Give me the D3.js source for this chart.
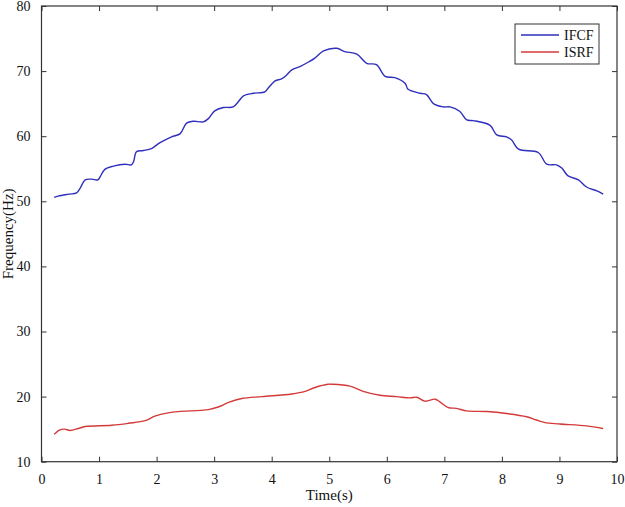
<!DOCTYPE html>
<html>
<head>
<meta charset="utf-8">
<script src="https://cdn.jsdelivr.net/npm/d3@7"></script>
<style>
  body { margin: 0; background: #fff; }
  svg { display: block; font-family: "Liberation Serif", "Times New Roman", serif; }
</style>
</head>
<body>
<svg id="chart" width="625" height="507"></svg>
<script>
// time (s) and frequency (Hz)
const ifcfTime = [0.22, 0.29, 0.47, 0.61, 0.67, 0.76, 0.87, 0.98, 1.02, 1.10, 1.25, 1.45, 1.56, 1.60, 1.65, 1.77, 1.91, 2.06, 2.26, 2.41, 2.52, 2.64, 2.81, 2.90, 3.01, 3.16, 3.33, 3.42, 3.51, 3.68, 3.88, 3.94, 4.06, 4.17, 4.26, 4.35, 4.49, 4.64, 4.75, 4.90, 5.13, 5.27, 5.48, 5.65, 5.82, 5.97, 6.14, 6.32, 6.37, 6.58, 6.69, 6.81, 6.98, 7.10, 7.27, 7.39, 7.50, 7.79, 7.91, 8.08, 8.17, 8.29, 8.63, 8.78, 8.95, 9.04, 9.15, 9.33, 9.47, 9.65, 9.76];
const ifcfFreq = [50.6, 50.8, 51.1, 51.3, 52.0, 53.3, 53.4, 53.3, 53.8, 54.9, 55.4, 55.7, 55.6, 56.1, 57.6, 57.8, 58.1, 59.0, 59.9, 60.4, 62.0, 62.3, 62.2, 62.7, 63.9, 64.4, 64.5, 65.3, 66.2, 66.6, 66.8, 67.4, 68.5, 68.8, 69.4, 70.2, 70.7, 71.4, 72.0, 73.1, 73.5, 73.0, 72.6, 71.2, 71.0, 69.2, 69.0, 68.1, 67.2, 66.6, 66.4, 65.0, 64.5, 64.5, 63.8, 62.5, 62.4, 61.7, 60.2, 59.9, 59.4, 58.0, 57.5, 55.7, 55.6, 55.1, 53.9, 53.3, 52.2, 51.6, 51.1];

const isrfTime = [0.22, 0.32, 0.40, 0.50, 0.64, 0.76, 1.22, 1.51, 1.80, 1.97, 2.20, 2.38, 2.90, 3.07, 3.25, 3.48, 3.83, 4.35, 4.58, 4.75, 4.98, 5.04, 5.36, 5.59, 5.88, 6.17, 6.40, 6.52, 6.66, 6.84, 6.92, 7.07, 7.21, 7.39, 7.74, 8.08, 8.43, 8.60, 8.75, 9.01, 9.47, 9.76];
const isrfFreq = [14.2, 14.9, 15.0, 14.8, 15.1, 15.4, 15.6, 15.9, 16.3, 17.0, 17.5, 17.7, 18.0, 18.4, 19.1, 19.7, 20.0, 20.4, 20.8, 21.4, 21.9, 21.9, 21.6, 20.8, 20.2, 20.0, 19.8, 19.9, 19.3, 19.6, 19.2, 18.3, 18.2, 17.8, 17.7, 17.4, 16.9, 16.4, 16.0, 15.8, 15.5, 15.1];

const xTicks = [0, 1, 2, 3, 4, 5, 6, 7, 8, 9, 10];
const yTicks = [10, 20, 30, 40, 50, 60, 70, 80];
const seriesNames = ["IFCF", "ISRF"];
const seriesColors = ["#2f2fbd", "#d43a3a"];

const svg = d3.select("#chart");
const plotL = 41.5, plotR = 617, plotT = 6, plotB = 461.7;

const x = d3.scaleLinear().domain([0, 10]).range([plotL, plotR]);
const y = d3.scaleLinear().domain([10, 80]).range([plotB, plotT]);

const tickLen = 5;
const axisColor = "#333";

// frame
svg.append("rect")
  .attr("x", plotL).attr("y", plotT)
  .attr("width", plotR - plotL).attr("height", plotB - plotT)
  .attr("fill", "none").attr("stroke", axisColor).attr("stroke-width", 1.2);

// inward ticks on all four sides
function styleAxis(g){
  g.select(".domain").remove();
  g.selectAll(".tick line").attr("stroke", axisColor);
  g.selectAll(".tick text").attr("fill", "#111").attr("font-size", 14)
    .attr("font-family", "Liberation Serif, serif");
}
svg.append("g").attr("transform", `translate(0,${plotB})`)
  .call(d3.axisBottom(x).tickValues(xTicks).tickSizeInner(-tickLen).tickPadding(12).tickFormat(d3.format("d")))
  .call(styleAxis);
svg.append("g").attr("transform", `translate(0,${plotT})`)
  .call(d3.axisTop(x).tickValues(xTicks).tickSizeInner(-tickLen).tickFormat(""))
  .call(styleAxis);
svg.append("g").attr("transform", `translate(${plotL},0)`)
  .call(d3.axisLeft(y).tickValues(yTicks).tickSizeInner(-tickLen).tickPadding(11).tickFormat(d3.format("d")))
  .call(styleAxis);
svg.append("g").attr("transform", `translate(${plotR},0)`)
  .call(d3.axisRight(y).tickValues(yTicks).tickSizeInner(-tickLen).tickFormat(""))
  .call(styleAxis);

// lines
const line = d3.line().x(d => x(d[0])).y(d => y(d[1])).curve(d3.curveCatmullRom.alpha(0.5));
const series = [
  d3.zip(ifcfTime, ifcfFreq),
  d3.zip(isrfTime, isrfFreq)
];
series.forEach((s, i) => {
  svg.append("path").datum(s)
    .attr("d", line)
    .attr("fill", "none")
    .attr("stroke", seriesColors[i])
    .attr("stroke-width", 1.4);
});

// axis labels
svg.append("text")
  .attr("x", (plotL + plotR) / 2).attr("y", 500)
  .attr("text-anchor", "middle").attr("font-size", 15).attr("fill", "#111")
  .text("Time(s)");
svg.append("text")
  .attr("transform", `translate(13,${y(45)}) rotate(-90)`)
  .attr("text-anchor", "middle").attr("font-size", 15).attr("fill", "#111")
  .text("Frequency(Hz)");

// legend
const legend = svg.append("g");
legend.append("rect")
  .attr("x", 515).attr("y", 24).attr("width", 84).attr("height", 40)
  .attr("fill", "#fff").attr("stroke", axisColor).attr("stroke-width", 1);
seriesNames.forEach((name, i) => {
  const ly = 35 + i * 17;
  legend.append("line")
    .attr("x1", 521).attr("x2", 559).attr("y1", ly).attr("y2", ly)
    .attr("stroke", seriesColors[i]).attr("stroke-width", 1.3);
  legend.append("text")
    .attr("x", 564).attr("y", ly + 4.5)
    .attr("font-size", 14).attr("fill", "#111")
    .text(name);
});
</script>
</body>
</html>
